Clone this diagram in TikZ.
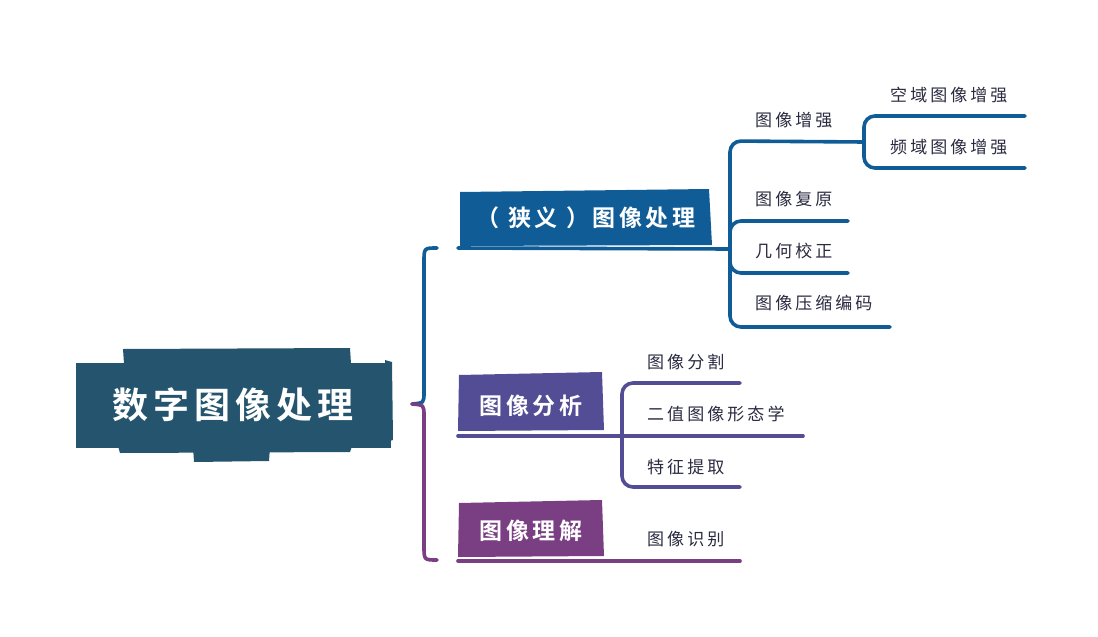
\documentclass[tikz,border=0pt]{standalone}
\usepackage{fontspec}
\newfontfamily\cjk[BoldFont={Noto Sans CJK SC Bold}]{Noto Sans CJK SC}
\newcommand\leaffont{\cjk\fontsize{17}{20}\selectfont\addfontfeature{LetterSpace=18}}
\newcommand\brfont{\cjk\bfseries\fontsize{23}{26}\selectfont\addfontfeature{LetterSpace=15}}
\newcommand\rootfont{\cjk\bfseries\fontsize{36}{40}\selectfont\addfontfeature{LetterSpace=14}}
\definecolor{rootc}{HTML}{24546E}
\definecolor{bA}{HTML}{0F5C97}
\definecolor{bB}{HTML}{524D94}
\definecolor{bC}{HTML}{7A3F82}
\definecolor{leafc}{HTML}{2A2A40}
\tikzset{
  conn/.style={line width=3.6pt, line cap=round, rounded corners=11pt},
  bracestroke/.style={line width=3.6pt, line cap=round},
  leaf/.style={anchor=west, inner sep=0pt, text=leafc, font=\leaffont},
  brbox/.style={inner sep=0pt, text=white, font=\brfont},
  rootbox/.style={fill=rootc, inner sep=0pt, text=white, font=\rootfont, minimum width=315pt, minimum height=85pt}
}
\begin{document}
\begin{tikzpicture}[x=1pt,y=-1pt]
\useasboundingbox (0,0) rectangle (1098,637);
% ---------- root ----------
\fill[rootc] (123,349) -- (350,348) -- (351,364) -- (124,364) -- cycle;
\fill[rootc] (118,446) -- (352,446) -- (350,452) -- (120,453) -- cycle;
\fill[rootc] (193,447) -- (270,447) -- (269,461) -- (194,462) -- cycle;
\fill[rootc] (385,360) -- (392,362) -- (393,440) -- (386,442) -- cycle;
\node[rootbox] (root) at (233,405) {数字图像处理};
% ---------- branch boxes ----------
\fill[bA] (460,192) -- (709,189) -- (712,245) -- (460,246) -- cycle;
\node[brbox] (b1) at (586,218) {（ 狭义 ）图像处理};
\fill[bB] (459,375) -- (602,372) -- (604,430) -- (458,431) -- cycle;
\node[brbox] (b2) at (531,406) {图像分析};
\fill[bC] (459,503) -- (602,500) -- (604,556) -- (458,557) -- cycle;
\node[brbox] (b3) at (531,531) {图像理解};
% ---------- coordinates ----------
\coordinate (cusp) at (412,404);
\coordinate (bt) at (437,248);
\coordinate (bb) at (437,560);
\coordinate (u1s) at (458,248);
\coordinate (j1) at (730,249);
\coordinate (u2s) at (458,436);
\coordinate (j2) at (622,436);
\coordinate (u3s) at (458,561);
\coordinate (u3e) at (740,561);
\coordinate (j3) at (864,142);
% ---------- brace ----------
\draw[bA, bracestroke] (bt) .. controls (424,248) .. (424,262) -- (424,392) .. controls (424,403) .. (cusp);
\draw[bC, bracestroke] (cusp) .. controls (424,405) .. (424,416) -- (424,546) .. controls (424,560) .. (bb);
% ---------- branch 1 ----------
\draw[bA, conn] (u1s) -- (j1);
\draw[bA, conn] (j1) -- (730,141) -- (j3);
\draw[bA, conn] (j1) -- (730,221) -- (848,221);
\draw[bA, conn] (j1) -- (730,273) -- (848,273);
\draw[bA, conn] (j1) -- (730,327) -- (890,327);
\draw[bA, conn] (j3) -- (864,116) -- (1025,116);
\draw[bA, conn] (j3) -- (864,168) -- (1025,168);
\node[leaf] (l11) at (755,120) {图像增强};
\node[leaf] (l12) at (755,199) {图像复原};
\node[leaf] (l13) at (755,251) {几何校正};
\node[leaf] (l14) at (755,303) {图像压缩编码};
\node[leaf] (l111) at (890,95) {空域图像增强};
\node[leaf] (l112) at (890,147) {频域图像增强};
% ---------- branch 2 ----------
\draw[bB, conn] (u2s) -- (j2) -- (803,436);
\draw[bB, conn] (j2) -- (622,383) -- (740,383);
\draw[bB, conn] (j2) -- (622,487) -- (740,487);
\node[leaf] (l21) at (647,362) {图像分割};
\node[leaf] (l22) at (647,414) {二值图像形态学};
\node[leaf] (l23) at (647,467) {特征提取};
% ---------- branch 3 ----------
\draw[bC, conn] (u3s) -- (u3e);
\node[leaf] (l31) at (647,539) {图像识别};
\end{tikzpicture}
\end{document}
